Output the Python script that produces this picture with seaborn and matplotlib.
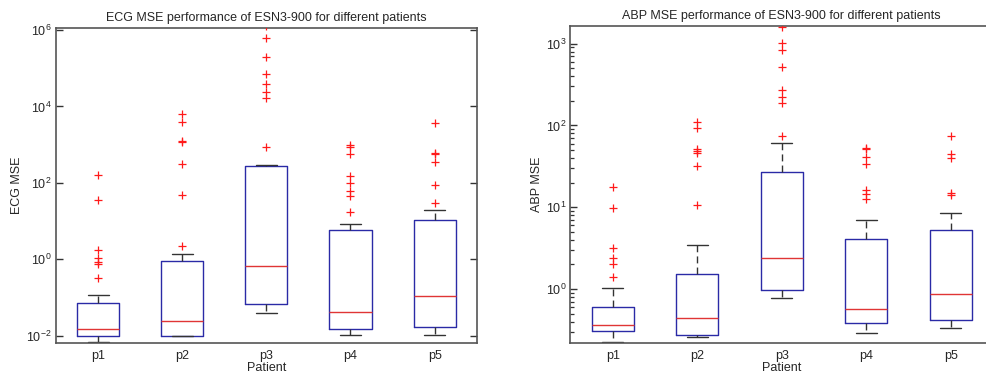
import numpy as np
import pandas as pd
import matplotlib
matplotlib.use("Agg")
import matplotlib.pyplot as plt
import matplotlib.ticker as mticker
import seaborn as sns

patients = ['p1', 'p2', 'p3', 'p4', 'p5']

# ECG MSE box statistics
ecg_q1 = [0.010, 0.010, 0.0676, 0.0153, 0.0169]
ecg_med = [0.0153, 0.0243, 0.668, 0.0425, 0.110]
ecg_q3 = [0.073, 0.92, 277, 5.85, 10.5]
ecg_lo = [0.0068, 0.0095, 0.0385, 0.0104, 0.0104]
ecg_hi = [0.116, 1.38, 295, 8.4, 19.2]
ecg_fliers = [
    [0.32, 0.75, 0.865, 1.06, 1.75, 35, 161],
    [2.23, 48, 307, 1200, 1270, 3850, 6250],
    [870, 16400, 24500, 39000, 71000, 200000, 611000, 1300000],
    [17.6, 46, 61, 98, 151, 565, 890, 960],
    [29, 88, 348, 565, 610, 3770],
]

# ABP MSE box statistics
abp_q1 = [0.307, 0.274, 0.97, 0.38, 0.418]
abp_med = [0.363, 0.442, 2.37, 0.575, 0.869]
abp_q3 = [0.608, 1.54, 27.2, 4.12, 5.26]
abp_lo = [0.227, 0.262, 0.776, 0.29, 0.336]
abp_hi = [1.02, 3.42, 61.5, 6.92, 8.57]
abp_fliers = [
    [1.41, 2.02, 2.37, 3.14, 9.86, 17.8],
    [10.6, 32, 46, 49, 51, 92, 111],
    [74.8, 186, 220, 270, 525, 835, 1025, 1610],
    [12.8, 14.5, 16.2, 33.7, 40.7, 52, 53.4],
    [14.2, 14.8, 40.3, 44.3, 74.8],
]

sns.set_theme(style="white")
plt.rcParams['font.family'] = ['Liberation Sans', 'DejaVu Sans']
plt.rcParams['mathtext.default'] = 'regular'

BOX = '#2a2aa6'
MED = '#e03535'
BLK = '#333333'


def draw_panel(ax, q1, med, q3, lo, hi, fliers, title, ylabel, ylim, majors, minor):
    stats = []
    for i, p in enumerate(patients):
        stats.append({'label': p, 'q1': q1[i], 'med': med[i], 'q3': q3[i],
                      'whislo': lo[i], 'whishi': hi[i], 'fliers': []})
    ax.bxp(stats, positions=range(len(patients)), widths=0.5, capwidths=0.25,
           showfliers=False, patch_artist=False,
           boxprops=dict(color=BOX, linewidth=1.0),
           medianprops=dict(color=MED, linewidth=1.0),
           whiskerprops=dict(color=BLK, linewidth=1.0, linestyle=(0, (5, 3))),
           capprops=dict(color=BLK, linewidth=1.0))
    fl = pd.DataFrame({'patient': [patients[i] for i, f in enumerate(fliers) for _ in f],
                       'mse': [v for f in fliers for v in f]})
    fl['pos'] = fl['patient'].map({p: i for i, p in enumerate(patients)})
    sns.scatterplot(data=fl, x='pos', y='mse', marker='+', color='#ff1a1a',
                    s=40, linewidth=0.9, ax=ax, legend=False, zorder=3)
    ax.set_yscale('log')
    ax.set_ylim(*ylim)
    ax.set_xlim(-0.5, 4.5)
    ax.set_xticks(range(len(patients)))
    ax.set_xticklabels(patients)
    ax.set_title(title, fontsize=9, pad=5)
    ax.set_xlabel('Patient', fontsize=9, labelpad=0)
    ax.set_ylabel(ylabel, fontsize=9, labelpad=2)
    ax.yaxis.set_major_locator(mticker.FixedLocator(majors))
    if minor:
        ax.yaxis.set_minor_locator(mticker.LogLocator(base=10, subs=np.arange(2, 10), numticks=100))
    else:
        ax.yaxis.set_minor_locator(mticker.NullLocator())
    ax.yaxis.set_minor_formatter(mticker.NullFormatter())
    ax.yaxis.set_major_formatter(mticker.LogFormatterMathtext())
    ax.tick_params(axis='y', which='major', direction='in', length=5, width=1.0,
                   left=True, right=True, labelsize=9, pad=3, color=BLK)
    ax.tick_params(axis='y', which='minor', direction='in', length=3, width=0.9,
                   left=True, right=True, color=BLK)
    ax.tick_params(axis='x', length=0, labelsize=9, pad=5)
    for s in ax.spines.values():
        s.set_color('#555555')
        s.set_linewidth(1.2)
    ax.grid(False)


fig = plt.figure(figsize=(9.87, 3.77), dpi=100)
ax1 = fig.add_axes([0.0567, 0.0894, 0.4263, 0.8355])
ax2 = fig.add_axes([0.578, 0.091, 0.428, 0.8406])

draw_panel(ax1, ecg_q1, ecg_med, ecg_q3, ecg_lo, ecg_hi, ecg_fliers,
           'ECG MSE performance of ESN3-900 for different patients', 'ECG MSE',
           (6.3e-3, 1.11e6), [1e-2, 1e0, 1e2, 1e4, 1e6], False)
draw_panel(ax2, abp_q1, abp_med, abp_q3, abp_lo, abp_hi, abp_fliers,
           'ABP MSE performance of ESN3-900 for different patients', 'ABP MSE',
           (0.221, 1655), [1e0, 1e1, 1e2, 1e3], True)

fig.savefig('out.png', dpi=100, facecolor='white')
